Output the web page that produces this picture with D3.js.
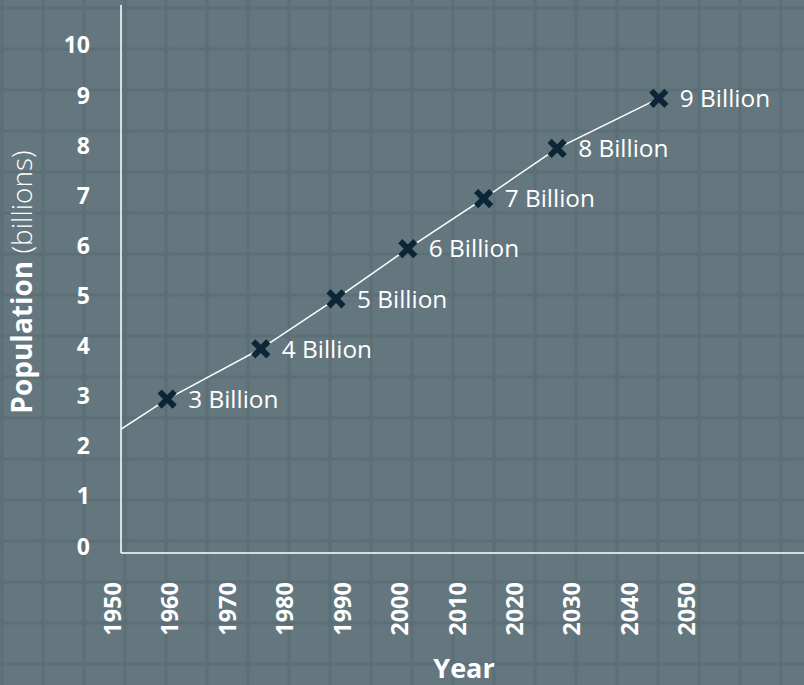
<!DOCTYPE html>
<html>
<head>
<meta charset="utf-8">
<script src="https://cdn.jsdelivr.net/npm/d3@7/dist/d3.min.js"></script>
<style>
  html, body { margin: 0; padding: 0; background: #62757e; }
  svg { display: block; }
  text { font-family: "Open Sans", "Noto Sans", sans-serif; fill: #ffffff; }
</style>
</head>
<body>
<svg id="chart" width="804" height="685"></svg>
<script>
// ---- data ----
const xTickYears = [1950, 1960, 1970, 1980, 1990, 2000, 2010, 2020, 2030, 2040, 2050];
const yTickValues = [0, 1, 2, 3, 4, 5, 6, 7, 8, 9, 10];
const milestoneYears = [1959.6, 1975.9, 1989.0, 2001.5, 2014.7, 2027.5, 2045.2];
const milestoneValues = [3, 4, 5, 6, 7, 8, 9];
const milestoneLabels = ["3 Billion", "4 Billion", "5 Billion", "6 Billion", "7 Billion", "8 Billion", "9 Billion"];
const lineStartYear = 1951.6;
const lineStartValue = 2.4;

const W = 804, H = 685;
const svg = d3.select("#chart");

// background with a subtle block pattern
const defs = svg.append("defs");
const pat = defs.append("pattern").attr("id", "blocks").attr("patternUnits", "userSpaceOnUse")
  .attr("width", 41).attr("height", 41).attr("x", 2).attr("y", 8);
pat.append("rect").attr("width", 41).attr("height", 41).attr("fill", "#5c6f77");
pat.append("rect").attr("x", 1.5).attr("y", 1.5).attr("width", 38).attr("height", 38).attr("rx", 3)
  .attr("fill", "#64777f");
svg.append("rect").attr("width", W).attr("height", H).attr("fill", "url(#blocks)");

const x = d3.scaleLinear().domain([1950, 2050]).range([112, 686.4]);
const y = d3.scaleLinear().domain([0, 10]).range([549.4, 48.2]);

const axisX0 = 121, axisY0 = 553;

// frame lines
svg.append("line").attr("x1", axisX0).attr("x2", axisX0).attr("y1", 5).attr("y2", axisY0)
  .attr("stroke", "#fff").attr("stroke-width", 1.5);
svg.append("line").attr("x1", axisX0).attr("x2", W).attr("y1", axisY0).attr("y2", axisY0)
  .attr("stroke", "#fff").attr("stroke-width", 1.5);

// x axis labels
const gx = svg.append("g").attr("transform", `translate(0,${axisY0})`)
  .call(d3.axisBottom(x).tickValues(xTickYears).tickFormat(d3.format("d")).tickSize(0));
gx.select(".domain").remove();
gx.selectAll("text")
  .attr("transform", "rotate(-90)")
  .attr("text-anchor", "end")
  .attr("x", -29).attr("y", 0).attr("dy", "0.36em")
  .style("font-size", "23.5px").style("font-weight", "700").style("fill", "#fff")
  .style("font-family", "'Open Sans', sans-serif");

// y axis labels
const gy = svg.append("g").attr("transform", `translate(${axisX0},0)`)
  .call(d3.axisLeft(y).tickValues(yTickValues).tickSize(0));
gy.select(".domain").remove();
gy.selectAll("text")
  .attr("x", -31).attr("y", -3.6).attr("dy", "0.36em")
  .attr("text-anchor", "end")
  .style("font-size", "23px").style("font-weight", "700").style("fill", "#fff")
  .style("font-family", "'Open Sans', sans-serif");

// line
const lineData = [{yr: lineStartYear, v: lineStartValue}]
  .concat(milestoneYears.map((yr, i) => ({yr, v: milestoneValues[i]})));
svg.append("path").datum(lineData)
  .attr("d", d3.line().x(d => x(d.yr)).y(d => y(d.v)))
  .attr("fill", "none").attr("stroke", "#fff").attr("stroke-width", 1.5);

// markers
const pts = milestoneYears.map((yr, i) => ({yr, v: milestoneValues[i], label: milestoneLabels[i]}));
svg.selectAll("path.mk").data(pts).enter().append("path").attr("class", "mk")
  .attr("transform", d => `translate(${x(d.yr)},${y(d.v)})`)
  .attr("d", d3.symbol(d3.symbolX, 150)())
  .attr("fill", "none").attr("stroke", "#0c2638").attr("stroke-width", 5.9);

svg.selectAll("text.lbl").data(pts).enter().append("text").attr("class", "lbl")
  .attr("x", d => x(d.yr) + 21).attr("y", d => y(d.v)).attr("dy", "0.36em")
  .style("font-size", "24.4px").style("font-weight", "400")
  .text(d => d.label);

// axis titles
const yt = svg.append("text").attr("transform", "translate(32,282) rotate(-90)")
  .attr("text-anchor", "middle").style("font-size", "28px");
yt.append("tspan").style("font-weight", "700").text("Population");
yt.append("tspan").style("font-weight", "300").text(" (billions)");

svg.append("text").attr("x", 464).attr("y", 678).attr("text-anchor", "middle")
  .style("font-size", "27px").style("font-weight", "700").text("Year");
</script>
</body>
</html>
